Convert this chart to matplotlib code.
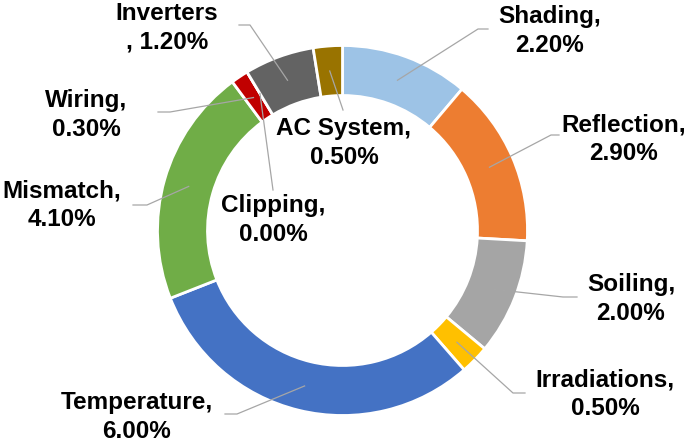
import numpy as np
import matplotlib
matplotlib.use("Agg")
import matplotlib.pyplot as plt

# loss categories, clockwise from 12 o'clock
categories = ["Shading", "Reflection", "Soiling", "Irradiations", "Temperature",
              "Mismatch", "Wiring", "Clipping", "Inverters", "AC System"]
losses = [2.20, 2.90, 2.00, 0.50, 6.00, 4.10, 0.30, 0.00, 1.20, 0.50]
colors = ["#9DC3E6", "#ED7D31", "#A5A5A5", "#FFC000", "#4472C4",
          "#70AD47", "#C00000", "#264478", "#636363", "#997300"]

W, H = 685, 442
CX, CY, R_OUT, RING = 342.5, 230.5, 185, 50

# label layout in pixel coords (x, y from top): text centre, elbow, line end
label_pos = {
    "Shading": ((550, 31), (478, 29), (488, 29)),
    "Reflection": ((624, 139), (551, 135), (559, 135)),
    "Soiling": ((631, 299), (563, 297), (577, 297)),
    "Irradiations": ((605, 394), (513, 393), (525, 393)),
    "Temperature": ((137, 417), (237, 414), (225, 414)),
    "Mismatch": ((62, 205), (147, 205), (133, 205)),
    "Wiring": ((86, 115), (170, 112), (158, 112)),
    "Clipping": ((273, 220), (273, 190), (273, 190)),
    "Inverters": ((167, 28), (250, 25), (239, 25)),
    "AC System": ((344, 143), (343, 110), (343, 110)),
}


def px(p):
    return p[0], H - p[1]


fig = plt.figure(figsize=(W / 100, H / 100), dpi=100)
ax = fig.add_axes([0, 0, 1, 1])

ax.pie(losses, colors=colors, radius=R_OUT, center=(CX, H - CY),
       startangle=90, counterclock=False,
       wedgeprops=dict(width=RING, edgecolor="white", linewidth=2))

ax.set_xlim(0, W)
ax.set_ylim(0, H)
ax.set_aspect("equal")
ax.axis("off")

total = sum(losses)
cum = np.cumsum([0] + losses[:-1])
r_mid = R_OUT - RING / 2
for name, v, c0 in zip(categories, losses, cum):
    theta = np.deg2rad(90 - 360 * (c0 + v / 2) / total)
    wx = CX + r_mid * np.cos(theta)
    wy = H - CY + r_mid * np.sin(theta)
    text_p, elbow, end = label_pos[name]
    ex, ey = px(elbow)
    fx, fy = px(end)
    ax.plot([wx, ex, fx], [wy, ey, fy], color="#A6A6A6", lw=0.9, zorder=3)

    if name == "Inverters":
        label = f"{name}\n, {v:.2f}%"
    else:
        label = f"{name},\n{v:.2f}%"
    tx, ty = px(text_p)
    ax.text(tx, ty, label, ha="center", va="center", fontsize=17.5,
            fontweight="bold", family="Liberation Sans", color="black",
            linespacing=1.32, zorder=4)

fig.savefig("out.png", dpi=100, facecolor="white")
